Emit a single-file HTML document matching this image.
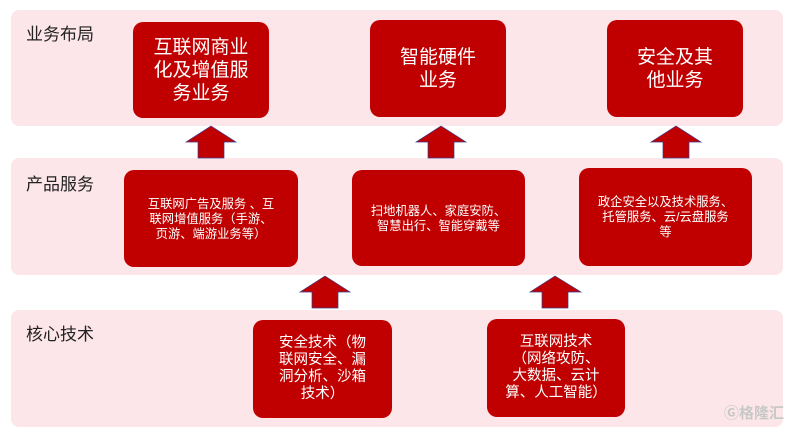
<!DOCTYPE html>
<html><head><meta charset="utf-8"><style>
body{margin:0;width:800px;height:433px;background:#fff;position:relative;overflow:hidden;font-family:"Liberation Sans","Noto Sans CJK SC",sans-serif}
.band{position:absolute;left:11px;width:772px;background:#fde6ea;border-radius:8px}
.lab{position:absolute;left:26px;font-size:17px;color:#222}
.box{position:absolute;background:#c00000;border-radius:10px;color:#fff;display:flex;align-items:center;justify-content:center;text-align:center;box-sizing:border-box;padding:0 4px}
.big{font-size:19px;line-height:23px}
.sm{font-size:12.3px;line-height:15px;align-items:flex-start;padding-top:27px}
.md{font-size:14.5px;line-height:17px}
svg{position:absolute;left:0;top:0}
</style></head><body>
<div class="band" style="top:10px;height:116px"></div>
<div class="band" style="top:158px;height:117px"></div>
<div class="band" style="top:310px;height:117px"></div>
<div class="lab" style="top:20px">业务布局</div>
<div class="lab" style="top:170px">产品服务</div>
<div class="lab" style="top:320px">核心技术</div>
<div class="box big" style="left:133px;top:22px;width:136px;height:96px">互联网商业<br>化及增值服<br>务业务</div>
<div class="box big" style="left:370px;top:20px;width:136px;height:97px">智能硬件<br>业务</div>
<div class="box big" style="left:607px;top:20px;width:136px;height:97px">安全及其<br>他业务</div>
<div class="box sm" style="left:124px;top:170px;width:174px;height:97px">互联网广告及服务 、互<br>联网增值服务（手游、<br>页游、端游业务等）</div>
<div class="box sm" style="left:352px;top:170px;width:173px;height:96px;padding-top:34px">扫地机器人、家庭安防、<br>智慧出行、智能穿戴等</div>
<div class="box sm" style="left:579px;top:168px;width:173px;height:98px">政企安全以及技术服务、<br>托管服务、云/云盘服务<br>等</div>
<div class="box md" style="left:253px;top:320px;width:139px;height:98px">安全技术（物<br>联网安全、漏<br>洞分析、沙箱<br>技术）</div>
<div class="box md" style="left:487px;top:319px;width:138px;height:98px">互联网技术<br>（网络攻防、<br>大数据、云计<br>算、人工智能）</div>
<svg width="800" height="433">
<g fill="#c00000" stroke="#3b3b8a" stroke-width="0.7">
<polygon points="186,142 211,126 236,142 224,142 224,158 198,158 198,142"/>
<polygon points="416,142 441,126 466,142 454,142 454,158 428,158 428,142"/>
<polygon points="651,142 676,126 701,142 689,142 689,158 663,158 663,142"/>
<polygon points="300,292 325,276 350,292 338,292 338,308 312,308 312,292"/>
<polygon points="530,292 555,276 581,292 568,292 568,308 542,308 542,292"/>
</g>
</svg>
<div style="position:absolute;left:724px;top:402px;font-size:15px;color:#c8c8c8;font-weight:bold">Ⓖ格隆汇</div>
</body></html>
